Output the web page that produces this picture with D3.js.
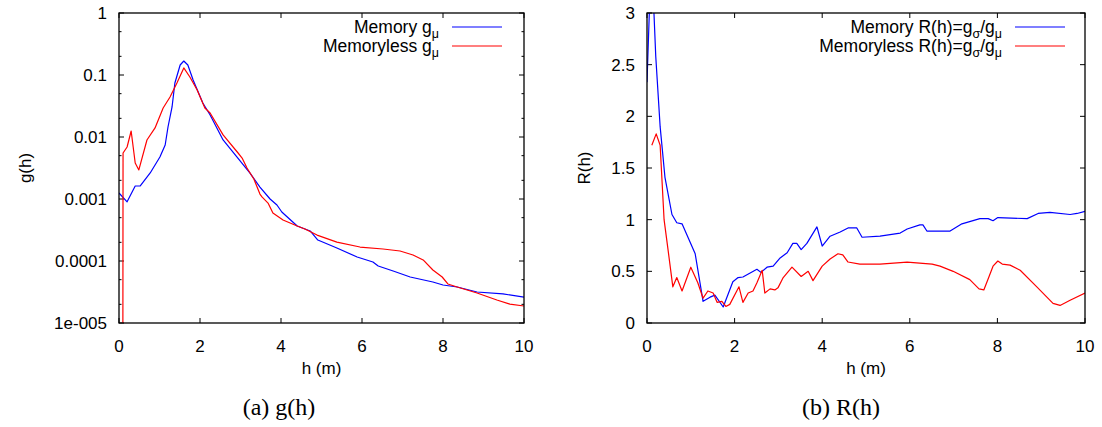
<!DOCTYPE html>
<html><head><meta charset="utf-8">
<script src="https://cdn.jsdelivr.net/npm/d3@7"></script>
<style>
body{margin:0;background:#fff;}
svg{display:block;}
text{font-family:"Liberation Sans",Arial,Helvetica,sans-serif;fill:#000;}
.cap{font-family:"Liberation Serif","Times New Roman",serif;}
</style></head>
<body>
<svg id="c" width="1102" height="427"></svg>
<script>
// ---- data (h in metres) ----
const hTicks = [0, 2, 4, 6, 8, 10];
const gTickValues = [1e-5, 1e-4, 1e-3, 1e-2, 1e-1, 1];
const gTickLabels = ["1e-005", "0.0001", "0.001", "0.01", "0.1", "1"];
const rTickValues = [0, 0.5, 1, 1.5, 2, 2.5, 3];
const rTickLabels = ["0", "0.5", "1", "1.5", "2", "2.5", "3"];

const memoryG_h = [0, 0.2, 0.4, 0.52, 0.77, 1.01, 1.14, 1.21, 1.31, 1.38, 1.51, 1.60, 1.70, 1.83, 2.07, 2.25, 2.57, 2.91, 3.23, 3.48, 3.73, 3.90, 4.02, 4.40, 4.72, 4.91, 5.38, 5.88, 6.27, 6.40, 6.77, 7.19, 7.75, 8.0, 8.35, 8.84, 9.48, 10.0];
const memoryG = [0.00125, 0.00090, 0.00162, 0.00162, 0.00263, 0.00476, 0.00743, 0.0145, 0.0305, 0.0743, 0.145, 0.168, 0.145, 0.083, 0.0353, 0.0226, 0.00895, 0.00476, 0.00263, 0.00156, 0.00100, 0.00080, 0.000617, 0.000367, 0.000305, 0.000218, 0.000162, 0.000116, 0.0000963, 0.0000830, 0.0000690, 0.0000552, 0.0000458, 0.0000410, 0.0000381, 0.0000316, 0.0000294, 0.0000262];

const memorylessG_h = [0.09, 0.1, 0.2, 0.30, 0.40, 0.49, 0.69, 0.89, 1.09, 1.26, 1.43, 1.60, 1.75, 1.93, 2.12, 2.25, 2.57, 2.94, 3.04, 3.16, 3.33, 3.48, 3.53, 3.68, 3.80, 4.05, 4.40, 4.59, 4.89, 5.38, 5.95, 6.52, 6.94, 7.26, 7.51, 7.75, 7.98, 8.12, 8.35, 8.84, 9.33, 9.65, 10.0];
const memorylessG = [1e-9, 0.00552, 0.0069, 0.0125, 0.00381, 0.00294, 0.00895, 0.0140, 0.0294, 0.0442, 0.0743, 0.130, 0.0929, 0.0573, 0.0294, 0.0244, 0.0108, 0.00552, 0.00458, 0.00316, 0.00210, 0.00120, 0.00108, 0.00086, 0.000594, 0.000458, 0.000367, 0.000328, 0.000262, 0.000202, 0.000168, 0.000156, 0.000145, 0.000125, 0.000104, 0.0000716, 0.0000552, 0.0000426, 0.0000381, 0.0000305, 0.0000235, 0.0000202, 0.0000188];

const memoryR_h = [0, 0.1, 0.2, 0.3, 0.41, 0.57, 0.68, 0.80, 1.10, 1.28, 1.44, 1.55, 1.74, 1.96, 2.08, 2.19, 2.51, 2.60, 2.74, 2.88, 3.04, 3.20, 3.33, 3.42, 3.52, 3.65, 3.88, 4.0, 4.18, 4.41, 4.59, 4.79, 4.91, 5.32, 5.78, 5.94, 6.23, 6.30, 6.39, 6.92, 7.19, 7.60, 7.79, 7.90, 8.01, 8.68, 8.93, 9.20, 9.66, 9.82, 10.0];
const memoryR = [2.33, 3.6, 2.58, 1.9, 1.41, 1.05, 0.97, 0.96, 0.67, 0.21, 0.25, 0.27, 0.155, 0.40, 0.44, 0.445, 0.52, 0.49, 0.54, 0.55, 0.63, 0.68, 0.77, 0.77, 0.71, 0.77, 0.93, 0.745, 0.84, 0.88, 0.92, 0.92, 0.83, 0.84, 0.87, 0.91, 0.95, 0.95, 0.89, 0.89, 0.96, 1.01, 1.01, 0.99, 1.02, 1.01, 1.06, 1.07, 1.05, 1.06, 1.08];

const memorylessR_h = [0.11, 0.21, 0.30, 0.39, 0.48, 0.59, 0.68, 0.80, 1.00, 1.16, 1.28, 1.39, 1.51, 1.60, 1.71, 1.80, 1.89, 2.10, 2.19, 2.31, 2.42, 2.51, 2.63, 2.69, 2.81, 2.92, 2.99, 3.11, 3.31, 3.52, 3.68, 3.79, 4.0, 4.18, 4.36, 4.47, 4.59, 4.86, 5.32, 5.94, 6.51, 6.69, 6.99, 7.37, 7.58, 7.69, 7.81, 7.90, 8.01, 8.11, 8.29, 8.52, 8.90, 9.27, 9.43, 9.66, 10.0];
const memorylessR = [1.72, 1.83, 1.72, 1.0, 0.71, 0.35, 0.44, 0.31, 0.54, 0.39, 0.24, 0.31, 0.29, 0.20, 0.21, 0.16, 0.18, 0.35, 0.20, 0.29, 0.31, 0.39, 0.51, 0.29, 0.33, 0.32, 0.34, 0.44, 0.54, 0.45, 0.50, 0.41, 0.55, 0.62, 0.67, 0.66, 0.59, 0.57, 0.57, 0.59, 0.57, 0.55, 0.50, 0.42, 0.33, 0.32, 0.45, 0.55, 0.60, 0.57, 0.56, 0.51, 0.35, 0.19, 0.17, 0.22, 0.29];

// ---- drawing ----
const svg = d3.select("#c");
const FS = 17;
const LFS = 17.5;

function zipPts(xs, ys){ return xs.map((x,i)=>[x, ys[i]]); }

function panel(opt){
  const {x0,x1,y0,y1,id} = opt;
  const x = d3.scaleLinear().domain([0,10]).range([x0,x1]);
  const y = opt.y;
  const g = svg.append("g");
  const cp = "clip"+id;
  svg.append("defs").append("clipPath").attr("id",cp)
    .append("rect").attr("x",x0).attr("y",y0).attr("width",x1-x0).attr("height",y1-y0);

  // ticks
  const tk = g.append("g").attr("stroke","#000").attr("stroke-width",1);
  hTicks.forEach(v=>{
    tk.append("line").attr("x1",x(v)).attr("x2",x(v)).attr("y1",y1).attr("y2",y1-5);
    tk.append("line").attr("x1",x(v)).attr("x2",x(v)).attr("y1",y0).attr("y2",y0+5);
    g.append("text").attr("x",x(v)).attr("y",y1+29).attr("text-anchor","middle")
      .attr("font-size",FS).text(v);
  });
  opt.yTickValues.forEach((v,i)=>{
    tk.append("line").attr("x1",x0).attr("x2",x0+5).attr("y1",y(v)).attr("y2",y(v));
    tk.append("line").attr("x1",x1).attr("x2",x1-5).attr("y1",y(v)).attr("y2",y(v));
    g.append("text").attr("x",x0-12).attr("y",y(v)+6).attr("text-anchor","end")
      .attr("font-size",FS).text(opt.yTickLabels[i]);
  });
  (opt.minor||[]).forEach(v=>{
    tk.append("line").attr("x1",x0).attr("x2",x0+2.5).attr("y1",y(v)).attr("y2",y(v));
    tk.append("line").attr("x1",x1).attr("x2",x1-2.5).attr("y1",y(v)).attr("y2",y(v));
  });

  // series
  const line = d3.line().x(d=>x(d[0])).y(d=>y(d[1]));
  opt.series.forEach(s=>{
    g.append("path").attr("clip-path",`url(#${cp})`).attr("d",line(s.pts))
      .attr("fill","none").attr("stroke",s.color).attr("stroke-width",1.2)
      .attr("stroke-linejoin","round");
  });

  // frame
  g.append("rect").attr("x",x0).attr("y",y0).attr("width",x1-x0).attr("height",y1-y0)
    .attr("fill","none").attr("stroke","#000").attr("stroke-width",1.3);

  // axis labels
  g.append("text").attr("x",(x0+x1)/2).attr("y",y1+51).attr("text-anchor","middle")
    .attr("font-size",FS).text("h (m)");
  g.append("text").attr("transform",`translate(${opt.ylabX},${(y0+y1)/2}) rotate(-90)`)
    .attr("text-anchor","middle").attr("dy","0.35em").attr("font-size",FS).text(opt.ylabel);

  // legend
  opt.series.forEach((s,i)=>{
    const ly = y0 + 14 + i*19;
    const t = g.append("text").attr("x",opt.legX).attr("y",ly+6).attr("text-anchor","end")
      .attr("font-size",LFS);
    let shifted = false;
    s.label.forEach(p=>{
      if (p.sub) {
        t.append("tspan").attr("font-size",12.5).attr("dy",5).text(p.sub);
        shifted = true;
      } else {
        const ts = t.append("tspan").text(p.t);
        if (shifted) { ts.attr("dy",-5); shifted = false; }
      }
    });
    g.append("line").attr("x1",opt.legX+13).attr("x2",opt.legX+63).attr("y1",ly).attr("y2",ly)
      .attr("stroke",s.color).attr("stroke-width",1.2);
  });

  // caption
  svg.append("text").attr("class","cap").attr("x",opt.capX).attr("y",415)
    .attr("text-anchor","middle").attr("font-size",24).text(opt.caption);
}

const minorG = [];
[1e-5,1e-4,1e-3,1e-2,1e-1].forEach(d=>{ minorG.push(2*d, 5*d); });

panel({
  id:"a", x0:119, x1:524, y0:13, y1:323,
  y: d3.scaleLog().domain([1e-5,1]).range([323,13]),
  yTickValues: gTickValues, yTickLabels: gTickLabels, minor: minorG,
  ylabel:"g(h)", ylabX:25, legX:439, capX:279, caption:"(a)  g(h)",
  series:[
    {color:"#0000ff", pts: zipPts(memoryG_h, memoryG), label:[{t:"Memory g"},{sub:"μ"}]},
    {color:"#ff0000", pts: zipPts(memorylessG_h, memorylessG), label:[{t:"Memoryless g"},{sub:"μ"}]}
  ]
});
panel({
  id:"b", x0:647, x1:1085, y0:13, y1:323,
  y: d3.scaleLinear().domain([0,3]).range([323,13]),
  yTickValues: rTickValues, yTickLabels: rTickLabels,
  ylabel:"R(h)", ylabX:584, legX:1002, capX:841, caption:"(b)  R(h)",
  series:[
    {color:"#0000ff", pts: zipPts(memoryR_h, memoryR), label:[{t:"Memory R(h)=g"},{sub:"σ"},{t:"/g"},{sub:"μ"}]},
    {color:"#ff0000", pts: zipPts(memorylessR_h, memorylessR), label:[{t:"Memoryless R(h)=g"},{sub:"σ"},{t:"/g"},{sub:"μ"}]}
  ]
});
</script>
</body></html>
